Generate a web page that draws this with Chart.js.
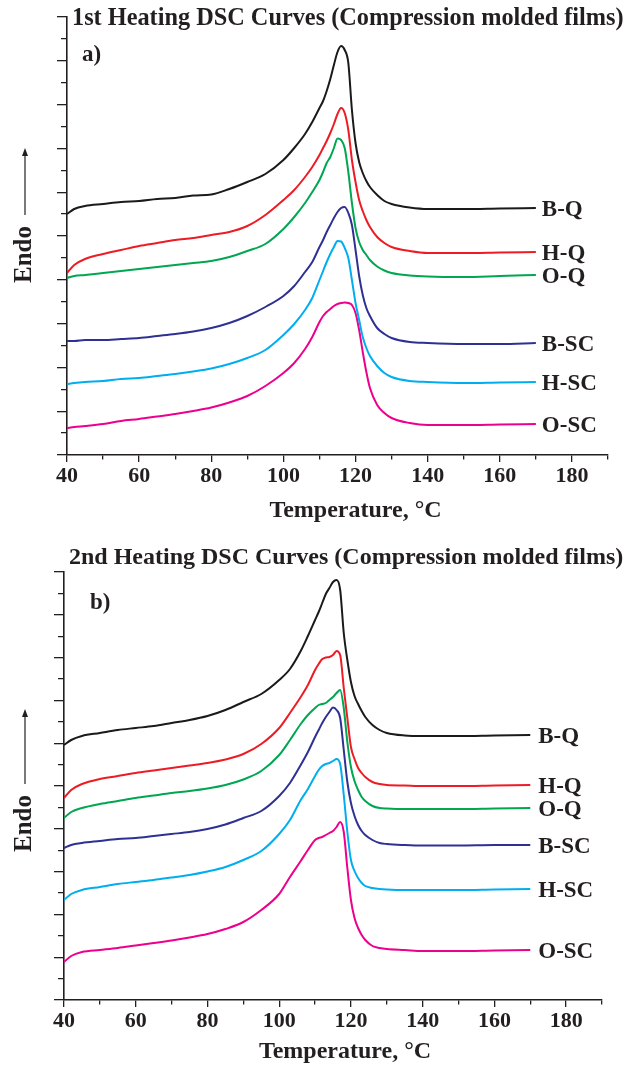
<!DOCTYPE html>
<html><head><meta charset="utf-8">
<script src="https://cdn.jsdelivr.net/npm/chart.js@4.4.0/dist/chart.umd.min.js"></script>
<style>
html,body{margin:0;padding:0;background:#fff;}
#wrap{position:relative;width:634px;height:1071px;overflow:hidden;}
.c{position:absolute;left:0;}
</style></head><body>
<div id="wrap">
<canvas id="ca" class="c" style="top:0" width="634" height="540"></canvas>
<canvas id="cb" class="c" style="top:540px" width="634" height="531"></canvas>
</div>
<script>
// ---------- DATA ----------
const temperature = [40,42,45,50,55,60,65,70,75,80,85,90,95,100,103,106,108,110,111,112,113,114,115,116,117,118,119,120,121,122,123,124,126,128,130,135,140,150,160,170];
const seriesNames = ['B-Q','H-Q','O-Q','B-SC','H-SC','O-SC'];
const xTickLabels = [40,60,80,100,120,140,160,180];

// 1st heating (heat flow, arbitrary units, offset curves)
const heat1_BQ  = [241,246,249,251,253,254,256,257,259.5,260.5,266,273,281,295,307,321,333,347,354,364,376,390,403,409,405,392,345,312,293,282,274,268,260,254,251,247.5,246,246,246.5,247];
const heat1_HQ  = [182,190,196,201,205,209,212,215,217,220,223,229,240,255,265,278,288,300,307,314,322,331,341,347,342,325,295,273,255,244,235,228,218,212,208,204,202,202,202.5,203];
const heat1_OQ  = [177,179,180,182,184,186,188,190,192,194,198,204,211,226,238,252,263,275,283,292,298,307,316.5,315,307,283,252,227,213,205,200,195,188.5,184.5,182,179.5,178.5,178,179,180];
const heat1_BSC = [114,114,115,115,116,117,119,121,123.5,127,132,139,148,159,169,183,193,208,215,223,230,237,243,247,248,242,230,205,179,160,147,139,127,121,117,113,112,111,111,112];
const heat1_HSC = [71,72,73,74,76,77,79,81,83.5,86.5,91,97,105,120,131,145,157,175,184,193,201,208,214,213.5,207,197,175,152,135,118,107,99,89,82,78,74,73,72,72.5,73];
const heat1_OSC = [27,28,29,31,34,36,38.5,41,44,47.5,52.5,59,69,82,92,106,118,133,139,143,146,149,151,152,152.5,152,150,142,125,103,83,67,50,42,37,32,30,30,30.5,31];

// 2nd heating
const heat2_BQ  = [255,260,264,267,270,272,274,277,280,284,290,298,306,320,331,349,364,380,388,397,406,412,418,420,410,367,340,318,304,296,289,283,275,270,267,264.5,264,264,264.5,265];
const heat2_HQ  = [202,210,216,221,224,227,229.5,232,234.5,237,240.5,246,256,272,287,303,315,330,336,341,342.5,343,345,349,345,312,282,253,241,232,227,223,218,216,215,214.5,214,214,214.5,215];
const heat2_OQ  = [182,188,192,196,199,202,204.5,207,209,211.5,215,220.5,229,245,260,276,285,292,295,296,297,300,303,307,310,292,258,233,219,210,203,199,194,192,191.5,191,191,191,191.5,192];
const heat2_BSC = [152,155,157,159,161,162,164,166,168,171,175.5,182,189,204,217,235,248,263,270,277,283,288,292.5,290,282,250,218,197,184,175,169,165,160,157,156,155,154.5,154.5,155,155];
const heat2_HSC = [100,106,110,113,116,118,120,122.5,125,128.5,133,140,149,166,180,200,211,224,230,234,236,237,239,241,236,205,168,140,129,122,117,114,112,111,110.5,110,110,110,110.5,111];
const heat2_OSC = [38,44,48,50,52,54.5,57,59.5,62.5,66,71,78,90,106,123,139,150,160,162,163,165,167,169,173,178,168,132,100,82,72,65,60,54,52,51,50,49,49,49.5,50];

// ---------- STYLE ----------
const lineColors = ['#1a1a1a','#ed1c24','#00a651','#2e3192','#00aeef','#ec008c'];
const SERIF = '"Liberation Serif", "Times New Roman", serif';
const INK = '#231f20';

function buildDatasets(seriesList){
  return seriesList.map((vals, i) => ({
    label: seriesNames[i],
    data: temperature.map((t, k) => ({x: t, y: vals[k]})),
    borderColor: lineColors[i],
    backgroundColor: lineColors[i],
    borderWidth: 2,
    pointRadius: 0,
    fill: false,
    cubicInterpolationMode: 'monotone'
  }));
}

const panelText = {
  id: 'panelText',
  afterDraw(chart, args, o) {
    const {ctx, chartArea: a} = chart;
    ctx.save();
    ctx.fillStyle = INK;
    ctx.textBaseline = 'middle';
    ctx.textAlign = 'left';
    ctx.font = 'bold ' + o.titleSize + 'px ' + SERIF;
    ctx.fillText(o.title, a.left + o.titleDx, a.top + o.titleDy);
    ctx.font = 'bold 23px ' + SERIF;
    ctx.fillText(o.letter, a.left + o.letterDx, a.top + o.letterDy);
    chart.data.datasets.forEach((ds, i) => {
      const meta = chart.getDatasetMeta(i);
      const last = meta.data[meta.data.length - 1];
      ctx.fillText(ds.label, last.x + o.labelGap, last.y + 2);
    });
    // x-axis title
    ctx.textAlign = 'center';
    ctx.font = 'bold 24px ' + SERIF;
    ctx.fillText('Temperature, °C', (a.left + a.right) / 2 + o.xTitleDx, a.bottom + o.xTitleDy);
    // Endo with arrow
    ctx.textAlign = 'left';
    ctx.translate(o.endoX, (a.top + a.bottom) / 2 + o.endoDy);
    ctx.rotate(-Math.PI / 2);
    ctx.font = 'bold 25px ' + SERIF;
    ctx.fillText('Endo', 0, 0);
    const w = ctx.measureText('Endo').width;
    ctx.strokeStyle = INK; ctx.lineWidth = 1.2;
    ctx.beginPath(); ctx.moveTo(w + 11, 0); ctx.lineTo(w + 11 + o.arrowLen, 0); ctx.stroke();
    ctx.beginPath();
    ctx.moveTo(w + 11 + o.arrowLen + 7, 0);
    ctx.lineTo(w + 11 + o.arrowLen - 1, -3);
    ctx.lineTo(w + 11 + o.arrowLen - 1, 3);
    ctx.closePath(); ctx.fill();
    ctx.restore();
  }
};

function makeChart(canvasId, seriesList, cfg){
  return new Chart(document.getElementById(canvasId), {
    type: 'line',
    data: { datasets: buildDatasets(seriesList) },
    plugins: [panelText],
    options: {
      responsive: false,
      animation: false,
      events: [],
      layout: { padding: cfg.padding },
      plugins: {
        legend: { display: false },
        tooltip: { enabled: false },
        panelText: cfg.text
      },
      scales: {
        x: {
          type: 'linear', min: 40, max: 190,
          afterFit: s => { s.height = cfg.xHeight; },
          afterBuildTicks: s => { s.ticks = []; for (let v = 40; v <= 190; v += 10) s.ticks.push({value: v}); },
          grid: {
            drawOnChartArea: false, drawTicks: true, tickLength: 7, color: INK, lineWidth: 1.3,
            tickBorderDash: c => (c.tick && c.tick.value % 20 !== 0) ? [4, 100] : []
          },
          border: { display: true, color: INK, width: 1.6 },
          ticks: {
            autoSkip: false, maxRotation: 0, padding: 1, color: INK,
            font: { family: SERIF, size: 22, weight: 'bold' },
            callback: v => xTickLabels.includes(v) ? String(v) : ''
          }
        },
        y: {
          type: 'linear', min: 0, max: cfg.yMax,
          afterFit: s => { s.width = cfg.yWidth; },
          afterBuildTicks: s => { s.ticks = []; for (let i = 0; i <= 20; i++) s.ticks.push({value: i * cfg.yMax / 20}); },
          grid: {
            drawOnChartArea: false, drawTicks: true, tickLength: 10, color: INK, lineWidth: 1.3,
            tickBorderDash: c => (c.index % 2 === 1) ? [0, 4, 100] : []
          },
          border: { display: true, color: INK, width: 1.6 },
          ticks: { display: false }
        }
      }
    }
  });
}

makeChart('ca', [heat1_BQ, heat1_HQ, heat1_OQ, heat1_BSC, heat1_HSC, heat1_OSC], {
  padding: { top: 17, right: 26, bottom: 0, left: 0 },
  xHeight: 85, yWidth: 67, yMax: 438,
  text: { title: '1st Heating DSC Curves (Compression molded films)', titleSize: 24.3, titleDx: 5, titleDy: 2,
          letter: 'a)', letterDx: 15, letterDy: 38, labelGap: 6,
          xTitleDx: 18, xTitleDy: 56,
          endoX: 25, endoDy: 47, arrowLen: 60 }
});

makeChart('cb', [heat2_BQ, heat2_HQ, heat2_OQ, heat2_BSC, heat2_HSC, heat2_OSC], {
  padding: { top: 32, right: 32, bottom: 0, left: 0 },
  xHeight: 71, yWidth: 64, yMax: 428,
  text: { title: '2nd Heating DSC Curves (Compression molded films)', titleSize: 24, titleDx: 5, titleDy: -14,
          letter: 'b)', letterDx: 26, letterDy: 31, labelGap: 8,
          xTitleDx: 12, xTitleDy: 52,
          endoX: 25, endoDy: 66, arrowLen: 68 }
});
</script>
</body></html>
